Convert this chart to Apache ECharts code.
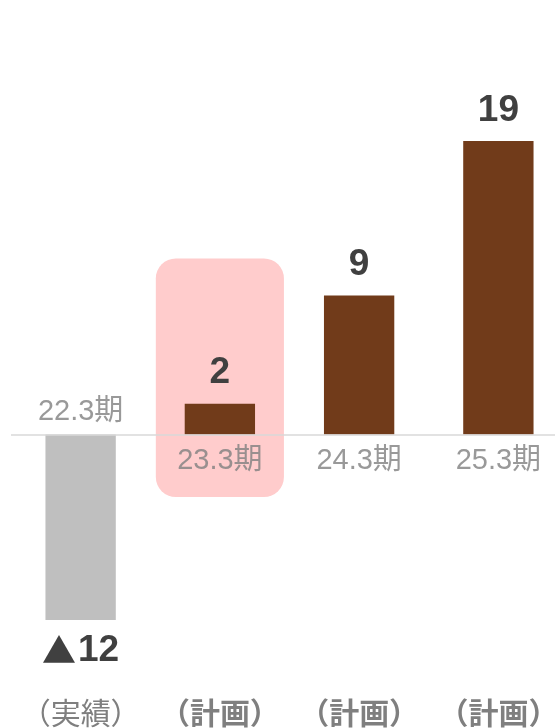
<!DOCTYPE html>
<html>
<head>
<meta charset="utf-8">
<script src="https://cdn.jsdelivr.net/npm/echarts@6/dist/echarts.min.js"></script>
<style>
    html, body {margin: 0; padding: 0; background: #fff;}
    #chart {width: 555px; height: 728px;}
</style>
</head>
<body>
<div id="chart"></div>
<script>
//---------------------------Data---------------------------
let periods = ['22.3期', '23.3期', '24.3期', '25.3期'];
let kinds = ['（実績）', '（計画）', '（計画）', '（計画）'];
let values = [-12, 2, 9, 19];
let zeros = [0, 0, 0, 0];
//highlighted period (index, top value, bottom value)
let highlight = [[1, 11.4, -4.05]];

//---------------------------Style---------------------------
let fontFamily = 'Arial, "Liberation Sans", "Noto Sans CJK JP", sans-serif';
let cjkFont = '"Noto Sans CJK JP", sans-serif';
let grey = '#7f7f7f';
let dark = '#404040';
let brown = '#713b1a';

let chart = echarts.init(document.getElementById('chart'));

let barData = values.map(function (v) {
    return {
        value: v,
        itemStyle: {color: v < 0 ? '#bfbfbf' : brown},
        label: {position: v < 0 ? 'bottom' : 'top'}
    };
});

//period labels sit on the zero line, above it for a negative bar
let periodData = zeros.map(function (z, i) {
    return {
        value: z,
        label: {position: values[i] < 0 ? 'top' : 'bottom', distance: values[i] < 0 ? 8 : 12}
    };
});

let option = {
    animation: false,
    grid: {left: 11, right: -13, top: 48.25, bottom: 30.8, outerBoundsMode: 'none', containLabel: false},
    xAxis: {
        type: 'category',
        data: kinds,
        position: 'bottom',
        axisLine: {show: false, onZero: false},
        axisTick: {show: false},
        axisLabel: {
            margin: 0,
            formatter: function (v, i) {
                return (values[i] < 0 ? '{a|' : '{b|') + v + '}';
            },
            rich: {
                a: {color: grey, fontSize: 30, fontFamily: cjkFont},
                b: {color: grey, fontSize: 30, fontFamily: cjkFont, fontWeight: 'bold'}
            }
        }
    },
    yAxis: {
        type: 'value',
        min: -17,
        max: 25,
        show: false,
        splitLine: {show: false}
    },
    series: [
        {
            type: 'custom',
            data: highlight,
            z: 1,
            renderItem: function (params, api) {
                let p1 = api.coord([api.value(0), api.value(1)]);
                let p2 = api.coord([api.value(0), api.value(2)]);
                let w = api.size([1, 0])[0] * 0.92;
                return {
                    type: 'rect',
                    shape: {x: p1[0] - w / 2, y: p1[1], width: w, height: p2[1] - p1[1], r: 20},
                    style: {fill: '#ffcccc'}
                };
            }
        },
        {
            type: 'bar',
            data: barData,
            barWidth: '50.5%',
            z: 3,
            label: {
                show: true,
                distance: 12,
                color: dark,
                fontSize: 37,
                fontWeight: 'bold',
                fontFamily: fontFamily,
                formatter: function (p) {
                    return p.value < 0 ? '{tri|▲}' + Math.abs(p.value) : p.value;
                },
                rich: {
                    tri: {color: dark, fontSize: 34, fontFamily: cjkFont, padding: [0, 2, 0, 0]}
                }
            },
            markLine: {
                silent: true,
                symbol: 'none',
                label: {show: false},
                lineStyle: {color: '#d9d9d9', width: 1.5, type: 'solid'},
                data: [{yAxis: 0}]
            }
        },
        {
            type: 'scatter',
            data: periodData,
            symbolSize: 0,
            z: 5,
            label: {
                show: true,
                color: grey,
                fontSize: 29,
                fontFamily: fontFamily,
                formatter: function (p) { return periods[p.dataIndex]; }
            }
        }
    ]
};

chart.setOption(option);
</script>
</body>
</html>
